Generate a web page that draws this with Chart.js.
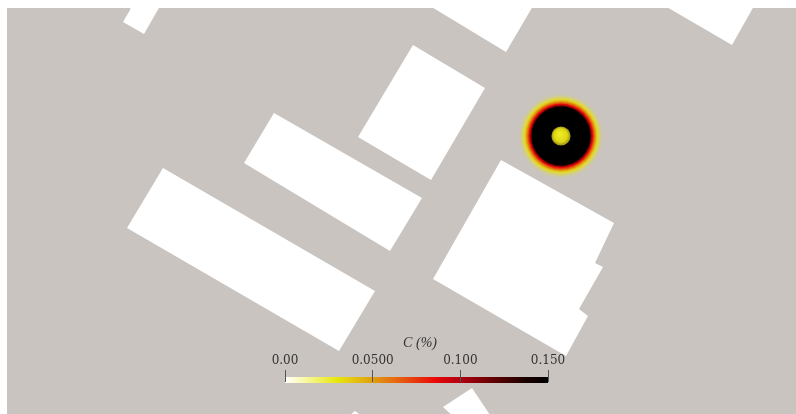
<!DOCTYPE html>
<html>
<head>
<meta charset="utf-8">
<title>C (%)</title>
<script src="https://cdn.jsdelivr.net/npm/chart.js@4/dist/chart.umd.js"></script>
<style>
  body { margin: 0; background: #fff; }
  canvas { display: block; }
</style>
</head>
<body>
<canvas id="plumeChart" width="796" height="414"></canvas>
<script>
'use strict'
// building footprints, metres from the lower left corner of the domain
const buildingTopLeft = [[30.75, 101], [29, 98], [34.25, 95], [38.25, 102], [31, 102], [30.75, 101]]
const buildingTopMid = [[105.75, 102], [124.75, 90.5], [131.5, 102], [105.75, 102]]
const buildingTopRight = [[164.5, 102], [181.25, 92.25], [186.75, 102], [164.5, 102]]
const buildingA = [[101.5, 92.25], [119.5, 81.5], [106, 58.5], [87.75, 69.25], [101.5, 92.25]]
const buildingB = [[66.75, 75.25], [103.75, 54], [95.75, 40.75], [59.25, 62.75], [66.75, 75.25]]
const buildingC = [[39, 61.5], [92, 30.75], [83, 15.75], [30, 46.5], [39, 61.5]]
const buildingD = [[123.5, 63.5], [151.75, 47.75], [147, 37.75], [149, 36.75], [143, 26.25], [145.25, 24.5], [139.75, 14.5], [106.5, 33.75], [123.5, 63.5]]
const buildingE = [[109, 1.75], [116.25, 6.5], [121.25, -1], [112, -1], [109, 1.75]]
const buildingF = [[85.5, -0.5], [87, 0.75], [88.75, -0.5], [85.5, -0.5]]
const buildings = [buildingTopLeft, buildingTopMid, buildingTopRight, buildingA, buildingB, buildingC, buildingD, buildingE, buildingF]

// radial concentration profile around the source
const source = [138.5, 69.5]
const plumeRadii = [11.25, 11, 10.75, 10.5, 10.25, 10, 9.75, 9.5, 9.25, 9, 8.75, 8.5, 8.25, 8, 7.75, 7.5, 7.35]
const plumeConc = [0.002, 0.004, 0.007, 0.011, 0.015, 0.02, 0.025, 0.03, 0.036, 0.043, 0.052, 0.062, 0.075, 0.09, 0.105, 0.125, 0.15]
const sphereRadius = 2.4

// colour bar
const cbarStops = [0, 0.012, 0.029, 0.0495, 0.065, 0.086, 0.1, 0.119, 0.1376, 0.15]
const cbarColors = [[255, 255, 255], [248, 248, 160], [232, 232, 16], [224, 160, 16], [232, 96, 16], [232, 8, 8], [176, 0, 16], [96, 0, 0], [24, 0, 0], [0, 0, 0]]
const cbarTicks = [0, 0.05, 0.1, 0.15]
const cbarLabels = ['0.00', '0.0500', '0.100', '0.150']

const pxPerMetre = 4
const cbarLeft = 278 // px from plot edge to the 0.00 tick
const cbarWidth = 263
const cbarPerPx = 0.15 / cbarWidth

function concColor (c) {
  // the pale end of the map fades out on the ground instead of going white
  const v = Math.max(c, 0.029)
  let i = 0
  while (i < cbarStops.length - 2 && v > cbarStops[i + 1]) i++
  const t = (v - cbarStops[i]) / (cbarStops[i + 1] - cbarStops[i])
  const rgb = cbarColors[i].map((n, k) => Math.round(n + (cbarColors[i + 1][k] - n) * t))
  // rings stack up, so keep the outer ones thin
  const alpha = Math.min(1, Math.pow(c / 0.05, 2))
  return `rgba(${rgb[0]},${rgb[1]},${rgb[2]},${alpha})`
}

const backdrop = {
  id: 'backdrop',
  beforeDraw (chart) {
    const { ctx, chartArea: a } = chart
    ctx.save()
    ctx.fillStyle = '#c9c4c0'
    ctx.fillRect(a.left, a.top, a.width, a.height)
    ctx.restore()
  }
}

const cbarTitle = {
  id: 'cbarTitle',
  afterDraw (chart) {
    const ctx = chart.ctx
    ctx.save()
    ctx.fillStyle = '#333'
    ctx.textBaseline = 'alphabetic'
    ctx.font = 'italic 14px "Liberation Serif"'
    ctx.fillText('C', 403, 347)
    ctx.fillText('(%)', 416, 347)
    ctx.restore()
  }
}

const datasets = buildings.map(b => ({
  data: b.map(p => ({ x: p[0], y: p[1] })),
  showLine: true,
  fill: 'shape',
  backgroundColor: '#fff',
  borderColor: 'transparent',
  borderWidth: 0,
  pointRadius: 0,
  tension: 0,
  order: 4
}))

datasets.push({
  type: 'bubble',
  data: plumeRadii.map(r => ({ x: source[0], y: source[1], r: r * pxPerMetre })),
  backgroundColor: ctx => concColor(plumeConc[ctx.dataIndex]),
  borderWidth: 0,
  order: 3
})

datasets.push({
  type: 'bubble',
  data: [{ x: source[0], y: source[1], r: sphereRadius * pxPerMetre }],
  backgroundColor: ctx => {
    const { x, y } = ctx.chart.scales
    const px = x ? x.getPixelForValue(source[0]) : NaN
    const py = y ? y.getPixelForValue(source[1]) : NaN
    if (!Number.isFinite(px) || !Number.isFinite(py)) return '#e0d820'
    const g = ctx.chart.ctx.createRadialGradient(px - 1, py - 2, 1, px, py, sphereRadius * pxPerMetre)
    g.addColorStop(0, '#f0ea20')
    g.addColorStop(0.65, '#dcd818')
    g.addColorStop(1, '#9a9010')
    return g
  },
  borderWidth: 0,
  order: 2
})

// the colour bar runs along its own concentration axis
datasets.push({
  xAxisID: 'cbar',
  data: cbarStops.map(c => ({ x: c, y: 8.5 })),
  showLine: true,
  pointRadius: 0,
  borderWidth: 6,
  borderCapStyle: 'butt',
  order: 1,
  borderColor: ctx => {
    const s = ctx.chart.scales.cbar
    const x0 = s ? s.getPixelForValue(0) : NaN
    const x1 = s ? s.getPixelForValue(0.15) : NaN
    if (!Number.isFinite(x0) || !Number.isFinite(x1)) return '#000'
    const g = ctx.chart.ctx.createLinearGradient(x0, 0, x1, 0)
    cbarStops.forEach((c, i) => g.addColorStop(c / 0.15, `rgb(${cbarColors[i].join(',')})`))
    return g
  }
})

const chart = new Chart(document.getElementById('plumeChart'), {
  type: 'scatter',
  data: { datasets },
  plugins: [backdrop, cbarTitle],
  options: {
    responsive: false,
    animation: false,
    layout: { autoPadding: false, padding: { left: 7, top: 8 } },
    plugins: { legend: { display: false }, tooltip: { enabled: false } },
    scales: {
      x: { type: 'linear', display: false, min: 0, max: 197.25 },
      y: { type: 'linear', display: false, min: 0, max: 101.5 },
      cbar: {
        type: 'linear',
        position: { y: 8 },
        min: -cbarLeft * cbarPerPx,
        max: (789 - cbarLeft) * cbarPerPx,
        afterBuildTicks: scale => { scale.ticks = cbarTicks.map(v => ({ value: v })) },
        border: { display: false },
        grid: { drawOnChartArea: false, drawTicks: true, tickLength: -12, tickColor: '#555', tickWidth: 1, z: 1 },
        ticks: {
          z: 1,
          autoSkip: false,
          maxRotation: 0,
          padding: -16,
          color: '#333',
          font: { family: '"DejaVu Serif"', size: 12 },
          callback: (v, i) => cbarLabels[i]
        }
      }
    }
  }
})
</script>
</body>
</html>
